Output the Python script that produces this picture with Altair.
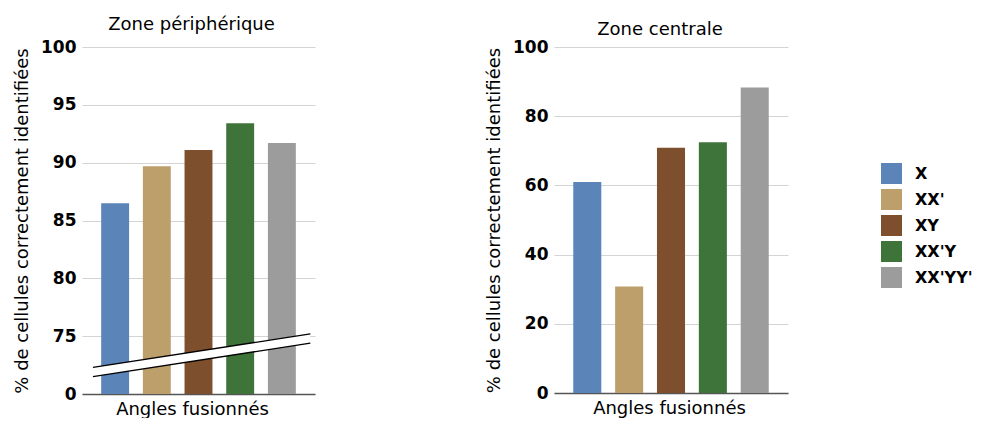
import altair as alt
import pandas as pd

categories = ["X", "XX'", "XY", "XX'Y", "XX'YY'"]
colors = ["#5b84b9", "#bd9f6c", "#7d4f2c", "#3e743a", "#9c9c9c"]
peripheral = [86.5, 89.7, 91.1, 93.4, 91.7]
central = [61.0, 30.8, 70.9, 72.5, 88.3]
left_ticks = [70, 75, 80, 85, 90, 95, 100]
right_ticks = [0, 20, 40, 60, 80, 100]
break_x = [0.047, 0.98]
break_top = [72.3, 75.2]
break_bottom = [71.5, 74.4]

FONT = "DejaVu Sans"
YTITLE = "% de cellules correctement identifiées"

df_left = pd.DataFrame({"cat": categories, "val": peripheral})
df_right = pd.DataFrame({"cat": categories, "val": central})
df_break = pd.DataFrame({"bx": break_x, "top": break_top, "bot": break_bottom})

color_scale = alt.Scale(domain=categories, range=colors)


def x_enc(title_x):
    return alt.X(
        "cat:N", sort=categories,
        scale=alt.Scale(paddingInner=0.33, paddingOuter=0.46),
        axis=alt.Axis(title="Angles fusionnés", labels=False, ticks=False,
                      domain=True, grid=False, domainColor="#555555",
                      domainWidth=1.5, titlePadding=6, titleX=title_x),
    )


def y_axis(ticks, expr=None):
    kw = dict(title=YTITLE, values=ticks, grid=True, gridColor="#d4d4d4",
              domain=False, ticks=False, labelPadding=6, titlePadding=9,
              labelFont=FONT, labelFontWeight="bold", labelFontSize=17,
              labelColor="black")
    if expr:
        kw["labelExpr"] = expr
    return alt.Axis(**kw)


left_bars = alt.Chart(df_left).mark_bar().encode(
    x=x_enc(110),
    y=alt.Y("val:Q", scale=alt.Scale(domain=[70, 100], zero=False, nice=False),
            axis=y_axis(left_ticks, "datum.value == 70 ? '0' : datum.label")),
    y2=alt.datum(70),
    color=alt.Color("cat:N", scale=color_scale, legend=None),
)

brk_x = alt.X("bx:Q", scale=alt.Scale(domain=[0, 1], nice=False, zero=False), axis=None)

brk_area = alt.Chart(df_break).mark_area(color="white", opacity=1).encode(
    x=brk_x, y=alt.Y("top:Q"), y2="bot:Q"
)
brk_edges = alt.Chart(df_break).transform_fold(
    ["top", "bot"], as_=["edge", "yv"]
).mark_line(color="black", strokeWidth=1.3).encode(
    x=brk_x, y=alt.Y("yv:Q"), detail="edge:N"
)

left = alt.layer(left_bars, brk_area, brk_edges).resolve_scale(
    x="independent"
).properties(
    width=233, height=347,
    title=alt.TitleParams("Zone périphérique", offset=4, dx=-7),
)

right = alt.Chart(df_right).mark_bar().encode(
    x=x_enc(115),
    y=alt.Y("val:Q", scale=alt.Scale(domain=[0, 100], nice=False),
            axis=y_axis(right_ticks)),
    color=alt.Color(
        "cat:N", scale=color_scale,
        legend=alt.Legend(title=None, orient="none", legendX=327, legendY=116,
                          symbolType="square", symbolSize=441,
                          symbolStrokeWidth=0, labelFont=FONT,
                          labelFontWeight="bold", labelFontSize=16,
                          labelColor="black", labelOffset=13, rowPadding=5,
                          padding=0),
    ),
).properties(
    width=234, height=346,
    title=alt.TitleParams("Zone centrale", offset=4, dy=5, dx=-11),
)

chart = alt.hconcat(left, right, spacing=170).resolve_scale(
    color="independent"
).properties(
    padding={"left": 5, "top": 8, "right": 5, "bottom": 0}
).configure_view(stroke=None).configure_axis(
    titleFont=FONT, titleFontSize=18, titleFontWeight="normal", titleColor="black"
).configure_title(
    font=FONT, fontSize=18, fontWeight="normal", color="black"
)

chart.save("out.html", embed_options={"renderer": "svg", "actions": False})
